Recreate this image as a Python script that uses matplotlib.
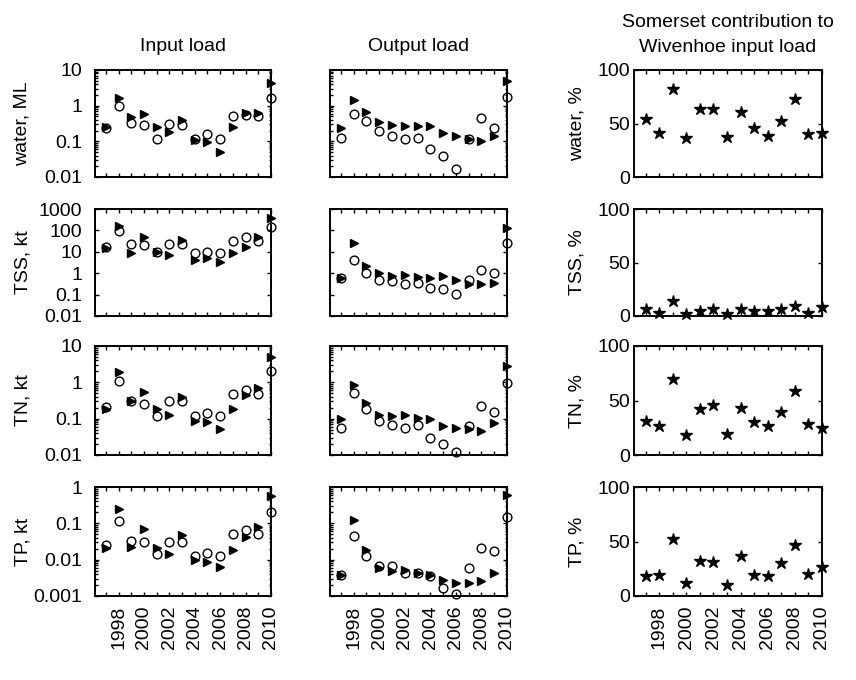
import matplotlib
matplotlib.use("Agg")
import matplotlib.pyplot as plt
import numpy as np
from matplotlib.ticker import LogLocator, NullFormatter, FixedLocator

plt.rcParams['font.family'] = ['Liberation Sans', 'DejaVu Sans']

years = list(range(1997, 2011))
year_ticks = list(range(1998, 2011, 2))

# Input load (circles = open symbols, triangles = filled)
water_in_c = [0.23, 0.97, 0.33, 0.28, 0.12, 0.31, 0.28, 0.12, 0.16, 0.12, 0.52, 0.55, 0.51, 1.6]
water_in_t = [0.25, 1.67, 0.47, 0.58, 0.25, 0.18, 0.40, 0.11, 0.095, 0.051, 0.25, 0.64, 0.64, 4.2]
tss_in_c = [16.7, 94, 23, 20, 10, 23, 23, 8.5, 10, 8.5, 33, 48, 33, 150]
tss_in_t = [15, 166, 8.5, 48, 10, 7.1, 34, 4.0, 5.1, 3.5, 8.5, 16.7, 48, 400]
tn_in_c = [0.21, 1.11, 0.30, 0.26, 0.12, 0.30, 0.30, 0.12, 0.14, 0.12, 0.49, 0.60, 0.49, 2.0]
tn_in_t = [0.19, 1.88, 0.30, 0.54, 0.19, 0.13, 0.40, 0.087, 0.079, 0.052, 0.18, 0.44, 0.68, 5.0]
tp_in_c = [0.026, 0.119, 0.032, 0.031, 0.014, 0.031, 0.031, 0.013, 0.015, 0.013, 0.052, 0.065, 0.052, 0.2]
tp_in_t = [0.021, 0.244, 0.023, 0.072, 0.021, 0.014, 0.047, 0.010, 0.0084, 0.0061, 0.019, 0.042, 0.08, 0.55]

# Output load
water_out_c = [0.127, 0.60, 0.36, 0.19, 0.138, 0.114, 0.127, 0.061, 0.040, 0.017, 0.114, 0.45, 0.24, 1.7]
water_out_t = [0.24, 1.41, 0.68, 0.35, 0.28, 0.27, 0.27, 0.27, 0.17, 0.138, 0.114, 0.10, 0.138, 4.8]
tss_out_c = [0.6, 4.0, 1.03, 0.50, 0.42, 0.31, 0.35, 0.21, 0.18, 0.11, 0.5, 1.4, 1.03, 26]
tss_out_t = [0.6, 26, 2.1, 1.03, 0.72, 0.85, 0.63, 0.6, 0.72, 0.5, 0.31, 0.31, 0.36, 126]
tn_out_c = [0.055, 0.5, 0.19, 0.085, 0.068, 0.056, 0.068, 0.030, 0.020, 0.012, 0.061, 0.23, 0.155, 0.95]
tn_out_t = [0.10, 0.82, 0.27, 0.127, 0.116, 0.127, 0.104, 0.095, 0.061, 0.056, 0.051, 0.046, 0.076, 2.9]
tp_out_c = [0.0039, 0.044, 0.0124, 0.0066, 0.0066, 0.0043, 0.0044, 0.0035, 0.0017, 0.0011, 0.0059, 0.021, 0.017, 0.154]
tp_out_t = [0.0039, 0.122, 0.0187, 0.0059, 0.0048, 0.0053, 0.0043, 0.0038, 0.0028, 0.0023, 0.0023, 0.0026, 0.0043, 0.61]

# Somerset contribution, %
water_pct = [54, 41.5, 82, 36, 64, 64, 37, 61, 46, 38.5, 52, 73, 40, 41]
tss_pct = [6.2, 3.1, 13.6, 1.5, 4.6, 6.2, 1.5, 6.2, 4.6, 4.6, 6.2, 9.3, 3, 8]
tn_pct = [31.5, 27, 70, 18, 42, 46, 19.5, 43, 30, 27, 39, 58.5, 28, 25]
tp_pct = [18.5, 19.5, 52, 11.5, 32.5, 31.5, 10, 37, 19.5, 18.5, 30, 47, 20, 27]

row_labels_load = ['water, ML', 'TSS, kt', 'TN, kt', 'TP, kt']
row_labels_pct = ['water, %', 'TSS, %', 'TN, %', 'TP, %']
ylims = [(0.01, 10), (0.01, 1000), (0.01, 10), (0.001, 1)]
ytick_labels = [['0.01', '0.1', '1', '10'],
                ['0.01', '0.1', '1', '10', '100', '1000'],
                ['0.01', '0.1', '1', '10'],
                ['0.001', '0.01', '0.1', '1']]

inputs = [(water_in_c, water_in_t), (tss_in_c, tss_in_t), (tn_in_c, tn_in_t), (tp_in_c, tp_in_t)]
outputs = [(water_out_c, water_out_t), (tss_out_c, tss_out_t), (tn_out_c, tn_out_t), (tp_out_c, tp_out_t)]
pcts = [water_pct, tss_pct, tn_pct, tp_pct]

W, H = 856, 680
fig = plt.figure(figsize=(W / 100, H / 100), dpi=100)

def px_axes(x0, y0, x1, y1):
    return fig.add_axes([x0 / W, 1 - y1 / H, (x1 - x0) / W, (y1 - y0) / H])

col_x = [(95, 271), (330, 507), (634, 822)]
row_y = [(70, 177), (209, 316), (346, 455), (487, 596)]
XLIM = (1996.15, 2010)
FS = 14

def style(ax):
    for s in ax.spines.values():
        s.set_linewidth(1.4)
    ax.set_xlim(*XLIM)
    ax.xaxis.set_major_locator(FixedLocator(years))
    ax.tick_params(which='both', direction='in', top=True, right=True, labelsize=FS,
                   width=1.0)
    ax.tick_params(which='major', length=3)
    ax.tick_params(which='minor', length=1.8)
    ax.tick_params(axis='x', which='major', pad=7)

for r in range(4):
    y0, y1 = row_y[r]
    for c in range(3):
        x0, x1 = col_x[c]
        ax = px_axes(x0, y0, x1, y1)
        if c < 2:
            ax.set_yscale('log')
            style(ax)
            ax.set_ylim(*ylims[r])
            lo, hi = ylims[r]
            decs = [10.0 ** k for k in range(int(round(np.log10(lo))), int(round(np.log10(hi))) + 1)]
            ax.yaxis.set_major_locator(FixedLocator(decs))
            ax.yaxis.set_minor_locator(LogLocator(base=10, subs=np.arange(2, 10)))
            ax.yaxis.set_minor_formatter(NullFormatter())
            data_c, data_t = (inputs if c == 0 else outputs)[r]
            ax.plot(years, data_t, linestyle='none', marker='>', color='black',
                    markersize=6, clip_on=False)
            ax.plot(years, data_c, linestyle='none', marker='o', markerfacecolor='none',
                    markeredgecolor='black', markeredgewidth=1.0, markersize=6.3, clip_on=False)
            if c == 0:
                ax.set_yticklabels(ytick_labels[r])
                ax.tick_params(axis='y', which='major', pad=9)
                ax.set_ylabel(row_labels_load[r], fontsize=FS)
                ax.yaxis.set_label_coords((31 - x0) / (x1 - x0), 0.5)
            else:
                ax.set_yticklabels([])
        else:
            style(ax)
            ax.set_ylim(0, 100)
            ax.set_yticks([0, 50, 100])
            ax.yaxis.set_minor_locator(FixedLocator([]))
            ax.tick_params(axis='y', which='major', pad=3)
            ax.plot(years, pcts[r], linestyle='none', marker='*', color='black',
                    markersize=9, clip_on=False)
            ax.set_ylabel(row_labels_pct[r], fontsize=FS)
            ax.yaxis.set_label_coords((586 - x0) / (x1 - x0), 0.5)
        if r == 3:
            ax.set_xticks(years)
            ax.set_xticklabels([str(y) if y in year_ticks else '' for y in years],
                               rotation=90)
        else:
            ax.set_xticklabels([])
        if r == 0:
            if c == 0:
                ax.set_title('Input load', fontsize=FS, pad=14)
            elif c == 1:
                ax.set_title('Output load', fontsize=FS, pad=14)
            else:
                ax.set_title('Somerset contribution to\nWivenhoe input load', fontsize=FS,
                             pad=13, linespacing=1.6)

fig.savefig('out.png', dpi=100)
